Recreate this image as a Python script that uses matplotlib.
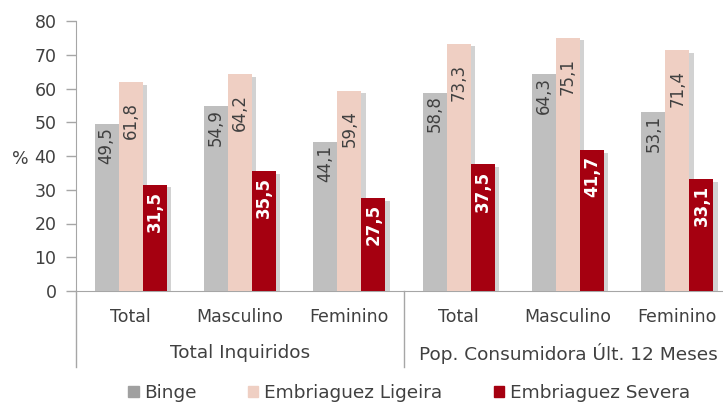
import matplotlib.pyplot as plt
import matplotlib.patheffects as pe
from matplotlib.lines import Line2D
from matplotlib.patches import Patch
import matplotlib.transforms as mtransforms
import numpy as np

categories = ["Total", "Masculino", "Feminino", "Total", "Masculino", "Feminino"]
groups = ["Total Inquiridos", "Pop. Consumidora Últ. 12 Meses"]
binge = [49.5, 54.9, 44.1, 58.8, 64.3, 53.1]
ligeira = [61.8, 64.2, 59.4, 73.3, 75.1, 71.4]
severa = [31.5, 35.5, 27.5, 37.5, 41.7, 33.1]
series_names = ["Binge", "Embriaguez Ligeira", "Embriaguez Severa"]

colors = ["#BFBFBF", "#EFCFC3", "#A50010"]
legend_colors = ["#A0A0A0", "#EFCFC3", "#A50010"]
label_colors = ["#404040", "#404040", "white"]
label_weights = ["normal", "normal", "bold"]
label_pad_px = [3, 20, 6]
txt = "#404040"
axis_col = "#A6A6A6"

plt.rcParams["font.family"] = ["DejaVu Sans"]

fig = plt.figure(figsize=(7.23, 4.05), dpi=100)
ax = fig.add_axes([76 / 723, 114 / 405, 656 / 723, 270 / 405])

x = np.arange(len(categories))
w = 0.22
shadow = [pe.SimplePatchShadow(offset=(3, -2), shadow_rgbFace="#808080", alpha=0.35), pe.Normal()]

for i, vals in enumerate([binge, ligeira, severa]):
    bars = ax.bar(x + (i - 1) * w, vals, w, color=colors[i], zorder=3)
    for b in bars:
        b.set_path_effects(shadow)
    for xi, v in zip(x + (i - 1) * w, vals):
        ax.annotate(f"{v:.1f}".replace(".", ","), (xi, v), xytext=(0, -label_pad_px[i] * 0.72),
                    textcoords="offset points", rotation=90, ha="center", va="top",
                    color=label_colors[i], fontsize=12, fontweight=label_weights[i], zorder=4)

ax.set_xlim(-0.5, len(categories) - 0.5)
ax.set_ylim(0, 80)
ax.set_yticks(range(0, 81, 10))
ax.tick_params(axis="y", colors=axis_col, labelcolor=txt, labelsize=12.5, length=7, width=1, pad=7)
ax.set_xticks(x)
ax.set_xticklabels(categories, color=txt, fontsize=12.5)
ax.tick_params(axis="x", length=0, pad=12)
ax.set_ylabel("%", rotation=0, color=txt, fontsize=12.5, va="center", ha="center")
ax.yaxis.set_label_coords(-0.085, 0.49)

for s in ["top", "right"]:
    ax.spines[s].set_visible(False)
ax.spines["left"].set_color(axis_col)
ax.spines["bottom"].set_color(axis_col)

# group separators and group labels
trans = mtransforms.blended_transform_factory(ax.transData, fig.transFigure)
for xs in [-0.5, 2.5]:
    ax.add_line(Line2D([xs, xs], [114 / 405, 38 / 405], transform=trans, color=axis_col, lw=1, clip_on=False))
for gi, g in enumerate(groups):
    ax.text(1 + 3 * gi, 52 / 405, g, transform=trans, ha="center", va="center", color=txt, fontsize=13.3)

handles = [Patch(color=c) for c in legend_colors]
leg = fig.legend(handles, series_names, loc="center", bbox_to_anchor=(409 / 723, 12 / 405),
                 ncol=3, frameon=False, fontsize=13.3, handlelength=0.55, handleheight=0.55,
                 handletextpad=0.3, columnspacing=2.8, labelcolor=txt, borderpad=0)

fig.savefig("out.png", dpi=100)
